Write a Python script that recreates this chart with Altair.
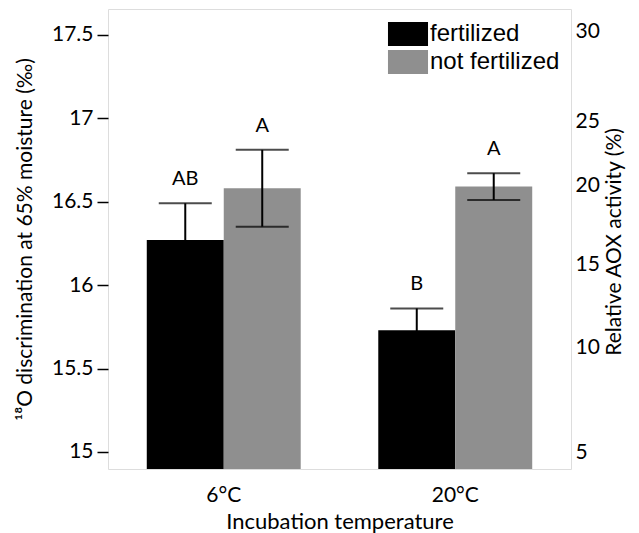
import altair as alt
import pandas as pd

temps = ["6°C", "20°C"]
treatments = ["fertilized", "not fertilized"]
fert_mean = [16.27, 15.73]
fert_err = [0.22, 0.13]
nofert_mean = [16.58, 16.59]
nofert_err = [0.23, 0.08]
fert_letters = ["AB", "B"]
nofert_letters = ["A", "A"]
left_ticks = [15, 15.5, 16, 16.5, 17, 17.5]
right_ticks = [5, 10, 15, 20, 25, 30]

rows = []
for i, t in enumerate(temps):
    rows.append(dict(temp=t, treatment=treatments[0], mean=fert_mean[i],
                     lo=fert_mean[i] - fert_err[i], hi=fert_mean[i] + fert_err[i],
                     letter=fert_letters[i]))
    rows.append(dict(temp=t, treatment=treatments[1], mean=nofert_mean[i],
                     lo=nofert_mean[i] - nofert_err[i], hi=nofert_mean[i] + nofert_err[i],
                     letter=nofert_letters[i]))
df = pd.DataFrame(rows)
right_df = pd.DataFrame({"v": right_ticks})

FONT = "Lato"

x_enc = alt.X("temp:N", sort=temps,
              scale=alt.Scale(paddingInner=0.335, paddingOuter=0.1675),
              axis=alt.Axis(title="Incubation temperature", labelAngle=0, ticks=False,
                            domain=False, labelFont=FONT, labelFontSize=21,
                            labelColor="black", labelPadding=15, titleFont=FONT,
                            titleFontSize=22, titleFontWeight="normal",
                            titleColor="black", titlePadding=6))
xo_enc = alt.XOffset("treatment:N", sort=treatments,
                     scale=alt.Scale(domain=treatments, paddingInner=0, paddingOuter=0))
y_scale = alt.Scale(domain=[14.898, 17.654], zero=False, nice=False)

bars = alt.Chart(df).mark_bar(clip=True).encode(
    x=x_enc,
    xOffset=xo_enc,
    y=alt.Y("mean:Q", scale=y_scale,
            axis=alt.Axis(title="¹⁸O discrimination at 65% moisture (‰)",
                          values=left_ticks, format="~g", domain=False,
                          tickSize=11, tickWidth=1.5, tickColor="black",
                          labelFont=FONT, labelFontSize=21, labelColor="black",
                          labelPadding=4, titleFont=FONT, titleFontSize=21,
                          titleFontWeight="normal", titleColor="black",
                          titlePadding=16, grid=False)),
    color=alt.Color("treatment:N",
                    scale=alt.Scale(domain=treatments, range=["#000000", "#8f8f8f"]),
                    legend=alt.Legend(title=None, orient="none", legendX=286, legendY=11,
                                      symbolType="M-1.43,-0.857H1.43V0.857H-1.43Z",
                                      symbolSize=784, symbolStrokeWidth=0,
                                      symbolOpacity=1, labelFont="Liberation Sans",
                                      labelFontSize=24, labelColor="black",
                                      labelOffset=8, rowPadding=2, padding=0)),
)

rules = alt.Chart(df).mark_rule(color="black", strokeWidth=2).encode(
    x=alt.X("temp:N", sort=temps), xOffset=xo_enc,
    y=alt.Y("lo:Q", scale=y_scale), y2="hi:Q")

caps_hi = alt.Chart(df).mark_tick(color="black", size=53, thickness=2).encode(
    x=alt.X("temp:N", sort=temps), xOffset=xo_enc,
    y=alt.Y("hi:Q", scale=y_scale))

caps_lo = alt.Chart(df).mark_tick(color="black", size=53, thickness=2).encode(
    x=alt.X("temp:N", sort=temps), xOffset=xo_enc,
    y=alt.Y("lo:Q", scale=y_scale))

letters = alt.Chart(df).mark_text(font=FONT, fontSize=20, color="black",
                                  baseline="middle", dy=-24).encode(
    x=alt.X("temp:N", sort=temps), xOffset=xo_enc,
    y=alt.Y("hi:Q", scale=y_scale), text="letter:N")

left = alt.layer(bars, rules, caps_hi, caps_lo, letters)

right = alt.Chart(right_df).mark_point(opacity=0).encode(
    y=alt.Y("v:Q",
            scale=alt.Scale(domain=right_ticks, range=[443, 338, 255, 176, 112, 22],
                            zero=False, nice=False),
            axis=alt.Axis(orient="right", title="Relative AOX activity (%)",
                          values=right_ticks, format="d", ticks=False, domain=False,
                          labelFont=FONT, labelFontSize=21, labelColor="black",
                          labelPadding=4, titleFont=FONT, titleFontSize=21,
                          titleFontWeight="normal", titleColor="black",
                          titleAngle=270, titleBaseline="top",
                          titlePadding=4, grid=False)))

chart = alt.layer(left, right).resolve_scale(y="independent").properties(
    width=463, height=460,
    autosize=alt.AutoSizeParams(type="none"),
    padding={"left": 108, "top": 9, "right": 68, "bottom": 64},
).configure_view(stroke="black", strokeWidth=2).configure(background="white")

chart.save("out.html", embed_options={"renderer": "svg", "actions": False})
